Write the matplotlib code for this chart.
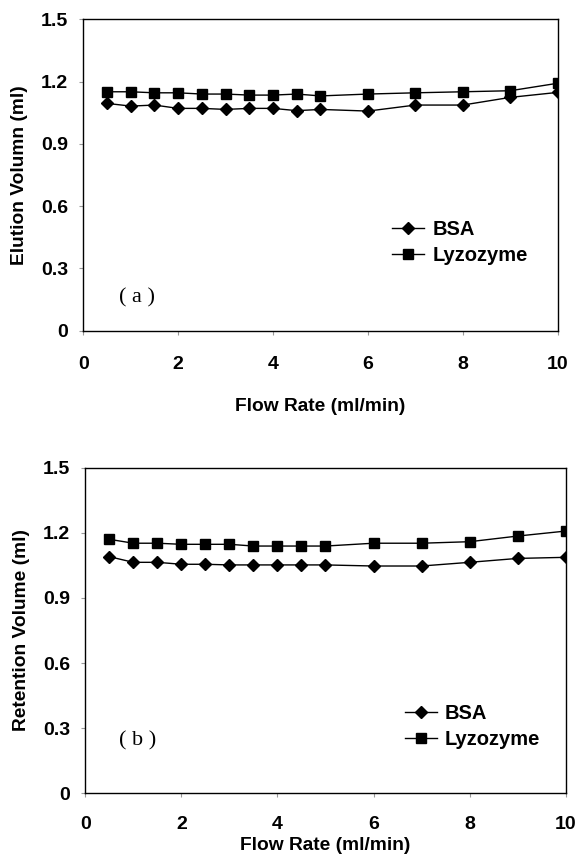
import matplotlib
matplotlib.use("Agg")
import matplotlib.pyplot as plt

# flow rates (ml/min)
flow = [0.5, 1, 1.5, 2, 2.5, 3, 3.5, 4, 4.5, 5, 6, 7, 8, 9, 10]

# (a) elution volume (ml)
bsa_elution = [1.095, 1.082, 1.087, 1.071, 1.071, 1.066, 1.071, 1.071,
               1.060, 1.066, 1.058, 1.087, 1.087, 1.124, 1.148]
lyz_elution = [1.151, 1.151, 1.146, 1.146, 1.140, 1.140, 1.135, 1.135,
               1.140, 1.131, 1.140, 1.146, 1.151, 1.156, 1.192]

# (b) retention volume (ml)
bsa_retention = [1.090, 1.064, 1.064, 1.055, 1.055, 1.052, 1.052, 1.052,
                 1.052, 1.052, 1.047, 1.047, 1.064, 1.082, 1.087]
lyz_retention = [1.170, 1.152, 1.152, 1.147, 1.147, 1.147, 1.139, 1.139,
                 1.139, 1.139, 1.152, 1.152, 1.159, 1.185, 1.208]

xticks = [0, 2, 4, 6, 8, 10]
yticks = [0, 0.3, 0.6, 0.9, 1.2, 1.5]
yticklabels = ["0", "0.3", "0.6", "0.9", "1.2", "1.5"]

plt.rcParams["font.family"] = ["Liberation Sans", "DejaVu Sans"]
plt.rcParams["font.weight"] = "bold"

fig = plt.figure(figsize=(5.76, 8.55), dpi=100)
ax_a = fig.add_axes([0.1446, 0.6132, 0.8236, 0.3642])
ax_b = fig.add_axes([0.1481, 0.0722, 0.8340, 0.3808])


def style_axis(ax, ylabel, xpad, xlabelpad, panel, panel_xy, leg_anchor):
    ax.set_xlim(0, 10)
    ax.set_ylim(0, 1.5)
    ax.set_xticks(xticks)
    ax.set_xticklabels([str(t) for t in xticks], fontsize=14, fontweight="bold")
    ax.set_yticks(yticks)
    ax.set_yticklabels(yticklabels, fontsize=14, fontweight="bold")
    ax.tick_params(direction="out", length=3, width=0.8, color="#999999")
    ax.tick_params(axis="x", pad=xpad)
    ax.tick_params(axis="y", pad=8)
    for s in ax.spines.values():
        s.set_linewidth(1.0)
        s.set_color("black")
    ax.set_xlabel("Flow Rate (ml/min)", fontsize=13.8, fontweight="bold",
                  labelpad=xlabelpad)
    ax.set_ylabel(ylabel, fontsize=13.8, fontweight="bold", labelpad=9)
    ax.text(panel_xy[0], panel_xy[1], panel, fontsize=16,
            family=["Liberation Serif", "DejaVu Serif"], fontweight="normal",
            ha="center", va="center")
    ax.legend(loc="center left", bbox_to_anchor=leg_anchor, frameon=False,
              prop={"size": 14.5, "weight": "bold"}, handlelength=1.6,
              handletextpad=0.4, labelspacing=0.35, borderpad=0,
              borderaxespad=0)


ax_a.plot(flow, bsa_elution, color="black", lw=1, marker="D", ms=6.5, label="BSA")
ax_a.plot(flow, lyz_elution, color="black", lw=1, marker="s", ms=6.5, label="Lyzozyme")
style_axis(ax_a, "Elution Volumn (ml)", 15.5, 18, "( a )", (1.13, 0.16),
           (0.651, 0.283))

ax_b.plot(flow, bsa_retention, color="black", lw=1, marker="D", ms=6.5, label="BSA")
ax_b.plot(flow, lyz_retention, color="black", lw=1, marker="s", ms=6.5, label="Lyzozyme")
style_axis(ax_b, "Retention Volume (ml)", 13.5, 3, "( b )", (1.08, 0.24),
           (0.665, 0.205))

fig.savefig("out.png", dpi=100)
